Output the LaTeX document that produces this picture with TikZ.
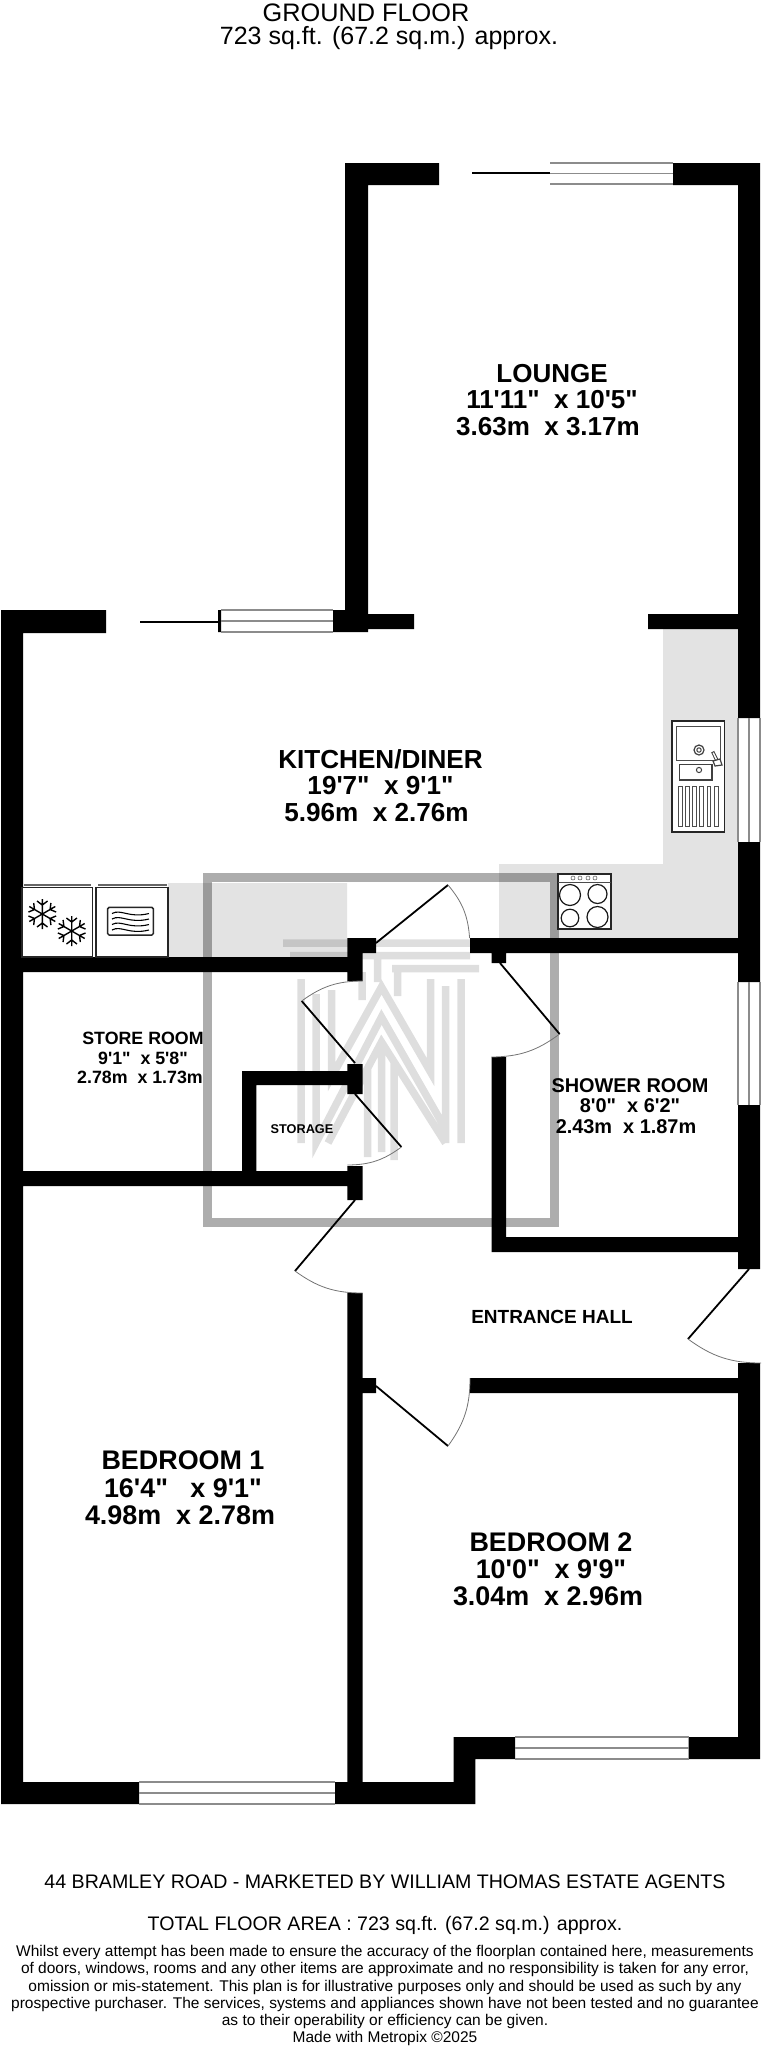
\documentclass[tikz,border=0pt]{standalone}
\usepackage{fontspec}
\usepackage{tikz}
\newfontfamily\planfont{Liberation Sans}
\newcommand{\fsize}[2]{\fontsize{#1}{#2}\selectfont}

\begin{document}
\begin{tikzpicture}[x=1pt,y=-1pt]
\tikzset{wallfill/.style={fill=black, draw=none}}
\tikzset{winline/.style={draw=black!45, line width=1.4pt}}
\tikzset{leaf/.style={draw=black, line width=1.8pt}}
\tikzset{swing/.style={draw=black!55, line width=0.8pt}}
\tikzset{unit/.style={draw=black!85, line width=1.6pt, fill=white}}
\tikzset{thinunit/.style={draw=black!70, line width=0.8pt}}
\tikzset{counter/.style={fill=black!11, draw=none}}
\tikzset{plain/.style={align=center, inner sep=0pt}}
\tikzset{roomname/.style={align=center, inner sep=0pt}}
\useasboundingbox (0,0) rectangle (762,2048);

% worktops
\fill[counter] (663,629) rectangle (738,864) (499,864) rectangle (738,938) (168,883) rectangle (347,957);

% watermark
\draw[black, opacity=0.13, line width=7.5pt, miter limit=10]
  (283,943) -- (470,943) (290,955.5) -- (470,955.5) (392,968.5) -- (479,968.5)
  (377.5,956) -- (377.5,982) (362,972) -- (362,1000) (397.5,972) -- (397.5,996)
  (301,979) -- (301,1143) (316,994) -- (316,1143) -- (381.5,1017) -- (445.5,1129)
  (445.5,986) -- (445.5,1143) (461,979) -- (461,1143)
  (331.5,990) -- (331.5,1077) -- (381.5,987) -- (430.5,1072) -- (430.5,979)
  (328,1143) -- (381.5,1042) -- (445.5,1143)
  (367.5,1067) -- (367.5,1157) (381.5,1047) -- (381.5,1152) (394,1063) -- (394,1160);
\draw[black, opacity=0.32, line width=9pt] (207.7,877) rectangle (554.5,1222.5);

% walls
\fill[wallfill]
  (345,163) rectangle (439,185) (345,163) rectangle (368,629)
  (673,163) rectangle (760,185) (738,163) rectangle (760,718)
  (738,842) rectangle (760,982) (738,1105) rectangle (760,1269)
  (648,614) rectangle (738,629) (333,610) rectangle (368,632) (346,614) rectangle (414,629)
  (1,610) rectangle (106,633) (218,610) rectangle (221,632)
  (1,610) rectangle (23,1804)
  (23,957) rectangle (348,972) (347.4,938) rectangle (376,953) (347.4,938) rectangle (362.5,981)
  (470,938) rectangle (738,953) (491.5,953) rectangle (506,963)
  (491.5,1057) rectangle (506,1252) (491.5,1237) rectangle (738,1252)
  (347.4,1064) rectangle (362.5,1094) (242,1071) rectangle (348,1085) (242,1071) rectangle (256.4,1172)
  (23,1171) rectangle (348,1186) (347.4,1166) rectangle (362.5,1200)
  (347.4,1293) rectangle (362.5,1804) (347.4,1378) rectangle (376,1393) (470,1378) rectangle (738,1393)
  (738,1363) rectangle (760,1759) (453.5,1737) rectangle (515,1759) (688.6,1737) rectangle (760,1759)
  (453.5,1737) rectangle (475.4,1804) (1,1782) rectangle (139,1804) (335,1782) rectangle (475.4,1804);

% windows
\foreach \xa/\xb/\ya/\yb in {550/673/163/184, 221/333/610/632, 139/335/1782/1804, 515/688.6/1737/1759}
  {\draw[winline] (\xa,\ya) -- (\xb,\ya) (\xa,{(\ya+\yb)/2}) -- (\xb,{(\ya+\yb)/2}) (\xa,\yb) -- (\xb,\yb);}
\foreach \ya/\yb in {718/842, 982/1105}
  {\draw[winline] (738,\ya) -- (738,\yb) (749,\ya) -- (749,\yb) (760,\ya) -- (760,\yb);}

% sliding doors
\draw[leaf] (472,173) -- (550,173);
\draw[leaf] (140,622) -- (218,622);

% doors
\draw[leaf] (376,943) -- (448,885);
\draw[swing] (448,885) to[bend left=18] (469.6,938);
\draw[leaf] (500,963) -- (559.6,1034);
\draw[swing] (559.6,1034) to[bend left=18] (491.5,1057);
\draw[leaf] (355,1063) -- (301.7,1001);
\draw[swing] (301.7,1001) to[bend left=18] (362.5,981);
\draw[leaf] (355,1094) -- (401.4,1147);
\draw[swing] (401.4,1147) to[bend left=18] (347.4,1165);
\draw[leaf] (355,1200) -- (295,1271);
\draw[swing] (295,1271) to[bend right=18] (362.5,1293);
\draw[leaf] (376,1386) -- (448,1446);
\draw[swing] (448,1446) to[bend right=18] (470,1378);
\draw[leaf] (749,1269) -- (688,1339);
\draw[swing] (688,1339) to[bend right=18] (761,1363);

% freezer and microwave
\draw[thinunit, line width=1.4pt, black!60] (24,885) -- (91,885) (98,885) -- (167,885);
\draw[unit] (21.7,887.5) rectangle (92.3,957) (95.7,887.5) rectangle (167.7,957);
\foreach \cx/\cy in {42.3/914, 71.7/931}
  {\foreach \a in {30,90,...,330}
    {\draw[black, line width=1.4pt, shift={(\cx,\cy)}]
       (0,0) -- ({15*cos(\a)},{15*sin(\a)})
       ({9*cos(\a)},{9*sin(\a)}) -- ({14*cos(\a+22)},{14*sin(\a+22)})
       ({9*cos(\a)},{9*sin(\a)}) -- ({14*cos(\a-22)},{14*sin(\a-22)});}}
\draw[black!85, line width=1.5pt, rounded corners=1.5pt] (107.7,907.3) rectangle (153.3,935);
\foreach \wy in {913.5,919,924.5,930}
  {\draw[black, line width=1.1pt] (112,\wy) .. controls (121,{\wy-5}) and (129,{\wy+5}) .. (149,\wy);}

% hob
\draw[unit] (558,874) rectangle (611,929);
\draw[thinunit] (558,882) -- (611,882);
\foreach \hx in {573,580,588,595} {\draw[black!70, line width=0.5pt] (\hx,878) circle (2);}
\foreach \hx/\hy/\hr in {570/895/10.5, 597.5/894/9.5, 570/918/8.8, 597.5/917/10.5}
  {\draw[black!90, line width=1.2pt] (\hx,\hy) circle (\hr);}

% sink
\draw[unit] (671.7,721) rectangle (724.3,832);
\draw[thinunit] (676.7,726) rectangle (720.7,760);
\draw[black!75, line width=1.6pt] (679.3,764.3) rectangle (711.7,780);
\draw[black!75, line width=1.2pt] (699,750) circle (5);
\draw[black!75, line width=1pt] (699,750) circle (2.2) (699,770) circle (2.6);
\foreach \rx in {680,687.2,694.4,701.6,708.8,716}
  {\draw[thinunit] ({\rx-1.9},786.7) rectangle ({\rx+1.9},826.7);}
\draw[black!75, line width=3.4pt] (712.7,751.7) -- (718.3,763.3);
\draw[white, line width=1.4pt] (713.2,752.7) -- (717.8,762.3);
\draw[black!75, line width=1.2pt, fill=white] (713,761) -- (720,759) -- (722,765) -- (715,766) -- cycle;

% room labels
\node[roomname, font=\planfont\bfseries\fsize{26}{26.5}] (lounge) at (552,400) {LOUNGE\\11'11"~~x 10'5"\hspace*{8pt}\\3.63m~~x 3.17m\hspace*{8pt}};
\node[roomname, font=\planfont\bfseries\fsize{26.1}{26.5}] (kitchen) at (380.5,785.5) {KITCHEN/DINER\\19'7"~~x 9'1"\hspace*{8pt}\\5.96m~~x 2.76m\hspace*{8pt}};
\node[roomname, font=\planfont\bfseries\fsize{17.8}{19.5}] (storeroom) at (143,1058) {STORE ROOM\\9'1"~~x 5'8"\\2.78m~~x 1.73m\hspace*{6pt}};
\node[roomname, font=\planfont\bfseries\fsize{12.7}{14}] (storage) at (302,1129) {STORAGE};
\node[roomname, font=\planfont\bfseries\fsize{19.9}{20.5}] (shower) at (630,1106) {SHOWER ROOM\\8'0"~~x 6'2"\hspace*{6pt}\\2.43m~~x 1.87m\hspace*{8pt}};
\node[roomname, font=\planfont\bfseries\fsize{19}{21}] (hall) at (552,1317) {ENTRANCE HALL};
\node[roomname, font=\planfont\bfseries\fsize{26.9}{27.5}] (bedone) at (183,1488) {BEDROOM 1\\16'4"~~~x 9'1"\hspace*{2pt}\\4.98m~~x 2.78m\hspace*{6pt}};
\node[roomname, font=\planfont\bfseries\fsize{26.9}{27}] (bedtwo) at (551,1569) {BEDROOM 2\\10'0"~~x 9'9"\hspace*{8pt}\\3.04m~~x 2.96m\hspace*{6pt}};

% titles
\node[plain, font=\planfont\fsize{25.3}{26}] (title) at (366,12.5) {GROUND FLOOR};
\node[plain, font=\planfont\fsize{25}{26}] (area) at (389,38.5) {723 sq.ft. (67.2 sq.m.) approx.};
\node[plain, font=\planfont\fsize{19.6}{22}] (marketed) at (385,1882) {44 BRAMLEY ROAD - MARKETED BY WILLIAM THOMAS ESTATE AGENTS};
\node[plain, font=\planfont\fsize{19.6}{22}] (total) at (385,1925.7) {TOTAL FLOOR AREA : 723 sq.ft. (67.2 sq.m.) approx.};
\node[plain, anchor=north, font=\planfont\fsize{15.5}{17.3}] (notes) at (385,1945) {Whilst every attempt has been made to ensure the accuracy of the floorplan contained here, measurements\\
  of doors, windows, rooms and any other items are approximate and no responsibility is taken for any error,\\
  omission or mis-statement. This plan is for illustrative purposes only and should be used as such by any\\
  prospective purchaser. The services, systems and appliances shown have not been tested and no guarantee\\
  as to their operability or efficiency can be given.\\
  Made with Metropix \textcopyright 2025};
\end{tikzpicture}
\end{document}
